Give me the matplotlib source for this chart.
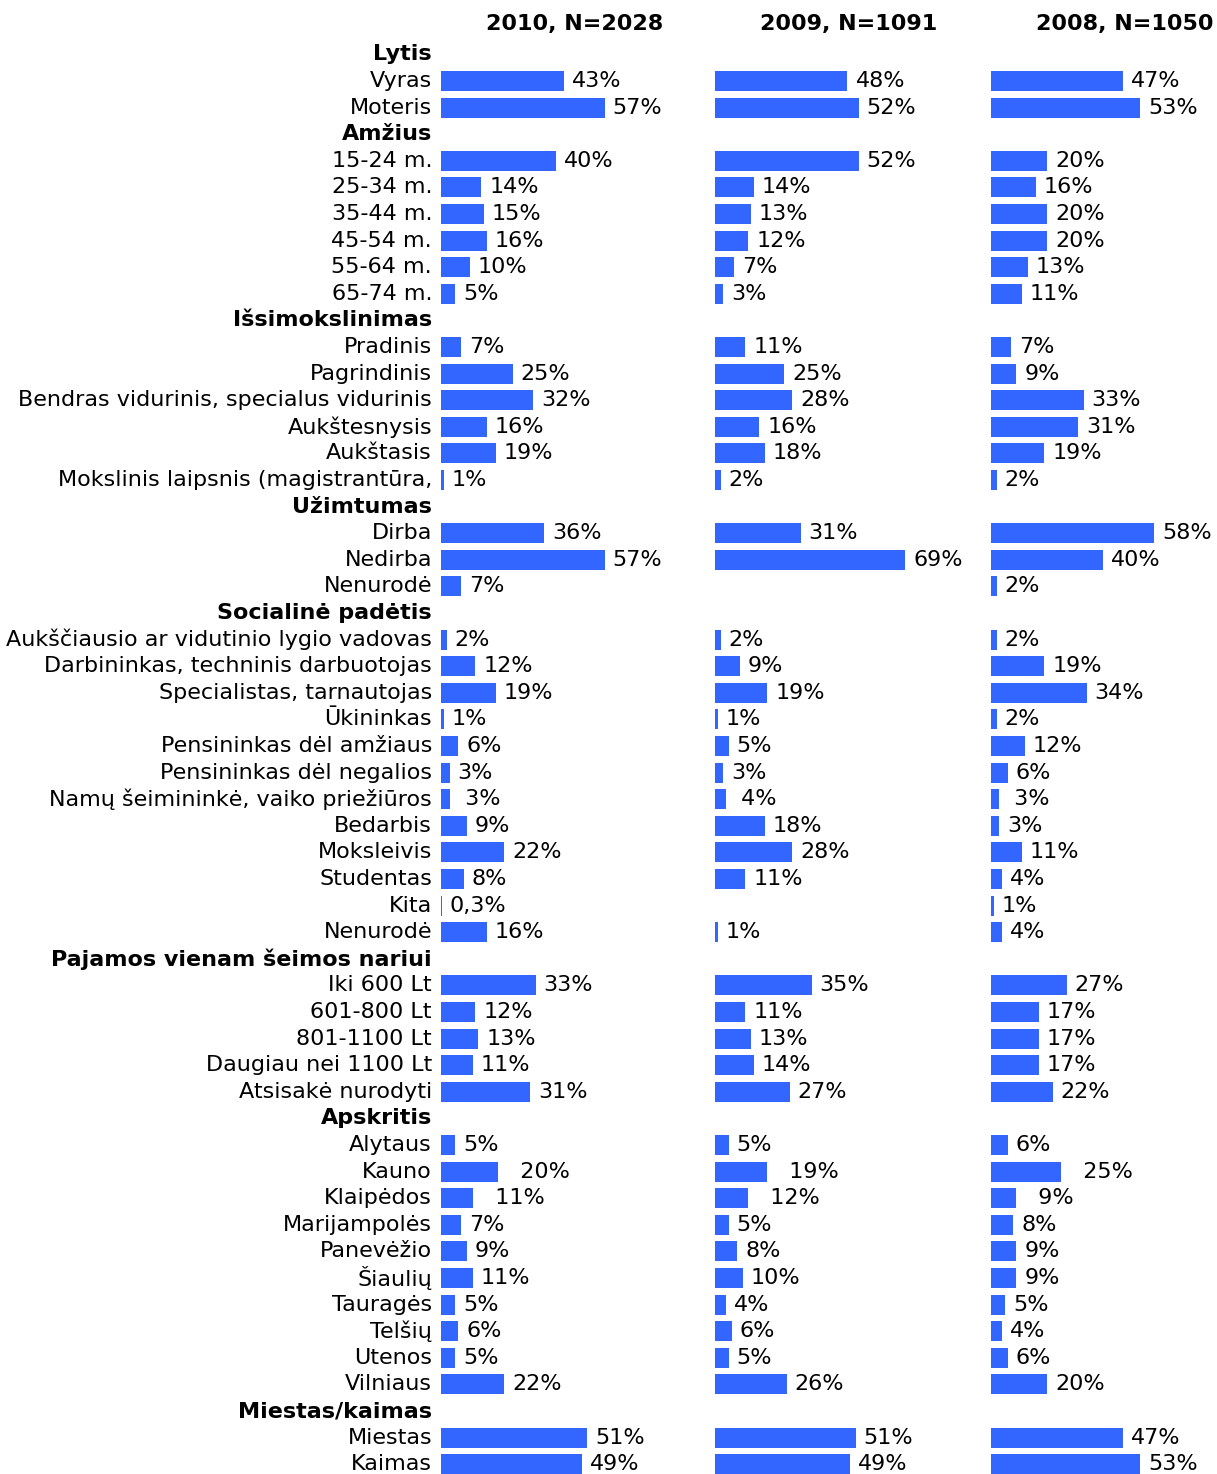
import matplotlib
matplotlib.use('Agg')
import matplotlib.pyplot as plt

# row labels; True marks a section header row
rows = [
    ('Lytis', True),
    ('Vyras', False), ('Moteris', False),
    ('Amžius', True),
    ('15-24 m.', False), ('25-34 m.', False), ('35-44 m.', False),
    ('45-54 m.', False), ('55-64 m.', False), ('65-74 m.', False),
    ('Išsimokslinimas', True),
    ('Pradinis', False), ('Pagrindinis', False),
    ('Bendras vidurinis, specialus vidurinis', False),
    ('Aukštesnysis', False), ('Aukštasis', False),
    ('Mokslinis laipsnis (magistrantūra,', False),
    ('Užimtumas', True),
    ('Dirba', False), ('Nedirba', False), ('Nenurodė', False),
    ('Socialinė padėtis', True),
    ('Aukščiausio ar vidutinio lygio vadovas', False),
    ('Darbininkas, techninis darbuotojas', False),
    ('Specialistas, tarnautojas', False),
    ('Ūkininkas', False),
    ('Pensininkas dėl amžiaus', False),
    ('Pensininkas dėl negalios', False),
    ('Namų šeimininkė, vaiko priežiūros', False),
    ('Bedarbis', False), ('Moksleivis', False), ('Studentas', False),
    ('Kita', False), ('Nenurodė', False),
    ('Pajamos vienam šeimos nariui', True),
    ('Iki 600 Lt', False), ('601-800 Lt', False), ('801-1100 Lt', False),
    ('Daugiau nei 1100 Lt', False), ('Atsisakė nurodyti', False),
    ('Apskritis', True),
    ('Alytaus', False), ('Kauno', False), ('Klaipėdos', False),
    ('Marijampolės', False), ('Panevėžio', False), ('Šiaulių', False),
    ('Tauragės', False), ('Telšių', False), ('Utenos', False),
    ('Vilniaus', False),
    ('Miestas/kaimas', True),
    ('Miestas', False), ('Kaimas', False),
]

titles = ['2010, N=2028', '2009, N=1091', '2008, N=1050']

# values per data row (headers skipped), None = no answer shown
v2010 = [43, 57,
         40, 14, 15, 16, 10, 5,
         7, 25, 32, 16, 19, 1,
         36, 57, 7,
         2, 12, 19, 1, 6, 3, 3, 9, 22, 8, 0.3, 16,
         33, 12, 13, 11, 31,
         5, 20, 11, 7, 9, 11, 5, 6, 5, 22,
         51, 49]
v2009 = [48, 52,
         52, 14, 13, 12, 7, 3,
         11, 25, 28, 16, 18, 2,
         31, 69, None,
         2, 9, 19, 1, 5, 3, 4, 18, 28, 11, None, 1,
         35, 11, 13, 14, 27,
         5, 19, 12, 5, 8, 10, 4, 6, 5, 26,
         51, 49]
v2008 = [47, 53,
         20, 16, 20, 20, 13, 11,
         7, 9, 33, 31, 19, 2,
         58, 40, 2,
         2, 19, 34, 2, 12, 6, 3, 3, 11, 4, 1, 4,
         27, 17, 17, 17, 22,
         6, 25, 9, 8, 9, 9, 5, 4, 6, 20,
         47, 53]

# a few labels in the original carry extra leading blanks
pad_rows = {'Namų šeimininkė, vaiko priežiūros': ' ', 'Kauno': '  ', 'Klaipėdos': '  '}


def fmt(v, pad):
    if v is None:
        return ''
    s = ('%g' % v).replace('.', ',')
    return pad + s + '%'


BLUE = '#3366FF'
FS = 16
W, H = 1217, 1474
fig = plt.figure(figsize=(W / 100, H / 100), dpi=100)

top_px, row_px = 54.4, 26.6
y_top = top_px - row_px / 2
y_bot = H
ymax = (y_bot - top_px) / row_px
starts = [441, 715, 991]
scales = [2.87, 2.76, 2.81]
ax_w = 250

data_idx = [i for i, (_, h) in enumerate(rows) if not h]

for p, (vals, title) in enumerate(zip([v2010, v2009, v2008], titles)):
    ax = fig.add_axes([starts[p] / W, 0, ax_w / W, (y_bot - y_top) / H])
    ax.set_xlim(0, ax_w / scales[p])
    ax.set_ylim(ymax, -0.5)
    ax.axis('off')
    ys = [data_idx[k] for k, v in enumerate(vals) if v is not None]
    ws = [v for v in vals if v is not None]
    ax.barh(ys, ws, height=0.75, color=BLUE)
    for k, v in enumerate(vals):
        if v is None:
            continue
        name = rows[data_idx[k]][0]
        ax.annotate(fmt(v, pad_rows.get(name, '')), (v, data_idx[k]),
                    xytext=(8, 0), textcoords='offset pixels',
                    va='center', ha='left', fontsize=FS, clip_on=False)
    ax.text(134 / ax_w, 1 + (y_top - 24) / (y_bot - y_top), title,
            transform=ax.transAxes, ha='center', va='center',
            fontsize=FS, fontweight='bold')
    if p == 0:
        for i, (name, hdr) in enumerate(rows):
            ax.annotate(name, (0, i), xytext=(-9, 0), textcoords='offset pixels',
                        ha='right', va='center', fontsize=FS,
                        fontweight='bold' if hdr else 'normal')

fig.savefig('out.png', dpi=100)
